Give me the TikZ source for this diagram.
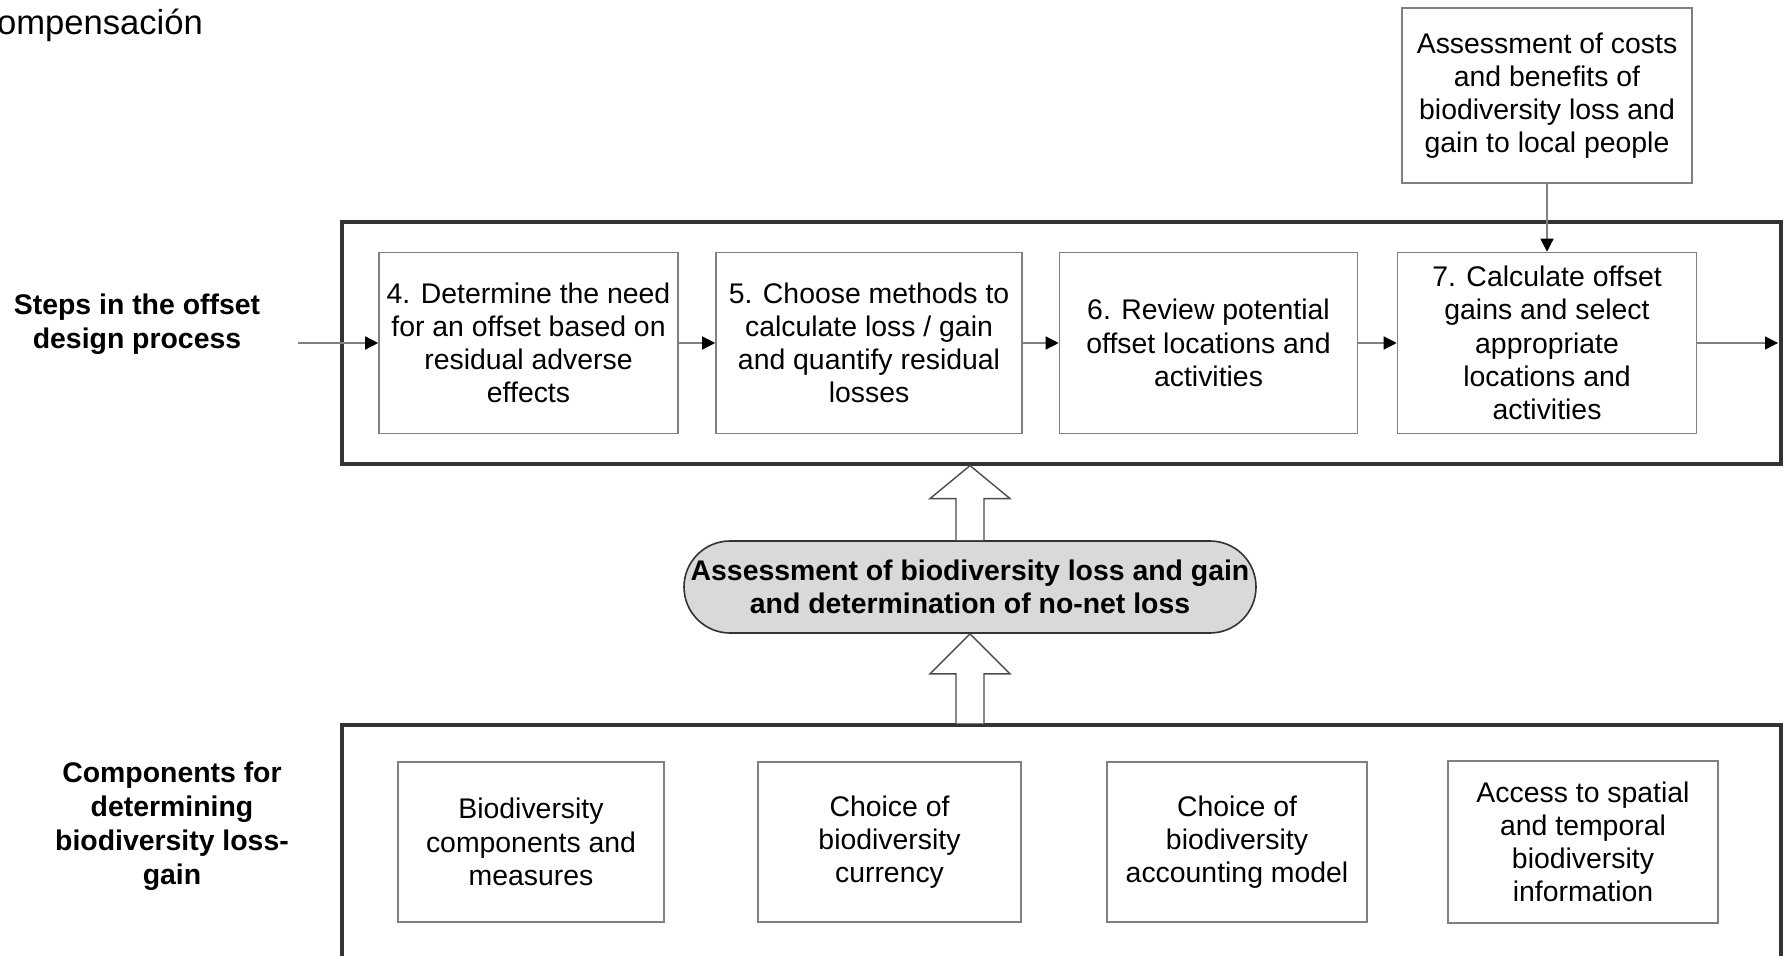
\documentclass[tikz,border=0pt]{standalone}
\usepackage{fontspec}
\setmainfont{Liberation Sans}
\usetikzlibrary{arrows.meta}

\begin{document}
\begin{tikzpicture}[x=0.5pt, y=-0.5pt,
  font=\fontsize{14.2}{16.6}\selectfont,
  stepbox/.style={draw=gray, line width=0.8pt, minimum width=149.5pt, minimum height=90.5pt, align=center, inner sep=1pt},
  compbox/.style={draw=gray, line width=0.8pt, minimum height=80pt, align=center, inner sep=1pt},
  panel/.style={draw=black!80, line width=1.6pt, minimum width=719.5pt},
  sidelabel/.style={align=center, font=\fontsize{14.2}{17}\selectfont\bfseries},
  pill/.style={draw=black!80, line width=0.8pt, fill=gray!30, rounded corners=23pt, minimum width=286pt, minimum height=46pt, align=center, inner sep=0pt, font=\fontsize{14.2}{16.6}\selectfont\bfseries},
  arrow/.style={-{Triangle[length=6.5pt, width=6.5pt, color=black]}, draw=gray, line width=0.7pt},
  hollow/.style={draw=black!70, line width=0.7pt, fill=white}
]
  \useasboundingbox (0,0) rectangle (1786,956);

  % Panels
  \node[panel, minimum height=121pt] (stepspanel) at (1061.5, 343) {};
  \node[panel, minimum height=137.5pt] (comppanel) at (1061.5, 862.5) {};
  \node[anchor=base west, font=\fontsize{17.3}{20}\selectfont] (title) at (-35, 35) {Compensación};

  % Steps
  \node[sidelabel] (stepslabel) at (137, 324) {Steps in the offset\\design process};
  \node[stepbox] (need) at (528.5, 343) {4. Determine the need\\for an offset based on\\residual adverse\\effects};
  \node[stepbox, minimum width=153pt] (methods) at (869, 343) {5. Choose methods to\\calculate loss / gain\\and quantify residual\\losses};
  \node[stepbox, minimum width=149pt] (review) at (1208.5, 343) {6. Review potential\\offset locations and\\activities};
  \node[stepbox] (calc) at (1547, 343) {7. Calculate offset\\gains and select\\appropriate\\locations and\\activities};
  \node[stepbox, minimum width=145pt, minimum height=87.5pt] (costs) at (1547, 95.5) {Assessment of costs\\and benefits of\\biodiversity loss and\\gain to local people};

  % Assessment
  \node[pill] (assess) at (970, 587) {Assessment of biodiversity loss and gain\\and determination of no-net loss};

  % Components
  \node[sidelabel] (complabel) at (172, 826) {Components for\\determining\\biodiversity loss-\\gain};
  \node[compbox, minimum width=133pt] (measures) at (531, 842) {Biodiversity\\components and\\measures};
  \node[compbox, minimum width=131.5pt] (currency) at (889.5, 842) {Choice of\\biodiversity\\currency};
  \node[compbox, minimum width=130pt] (model) at (1237, 842) {Choice of\\biodiversity\\accounting model};
  \node[compbox, minimum width=135pt, minimum height=81pt] (info) at (1583, 842) {Access to spatial\\and temporal\\biodiversity\\information};

  % Arrows
  \coordinate (in) at (298, 343);
  \coordinate (out) at (1778, 343);
  \draw[arrow] (in) -- (need);
  \draw[arrow] (need) -- (methods);
  \draw[arrow] (methods) -- (review);
  \draw[arrow] (review) -- (calc);
  \draw[arrow] (calc) -- (out);
  \draw[arrow] (costs) -- (calc);

  % Block arrows
  \coordinate (uptip) at (assess.north |- stepspanel.south);
  \coordinate (lowbase) at (assess.south |- comppanel.north);
  \draw[hollow] ([xshift=-7pt]assess.north) -- ([xshift=-7pt, yshift=-16.5pt]uptip) -- ([xshift=-20pt, yshift=-16.5pt]uptip) -- (uptip) -- ([xshift=20pt, yshift=-16.5pt]uptip) -- ([xshift=7pt, yshift=-16.5pt]uptip) -- ([xshift=7pt]assess.north);
  \draw[hollow] ([xshift=-7pt]lowbase) -- ([xshift=-7pt, yshift=-20pt]assess.south) -- ([xshift=-20pt, yshift=-20pt]assess.south) -- (assess.south) -- ([xshift=20pt, yshift=-20pt]assess.south) -- ([xshift=7pt, yshift=-20pt]assess.south) -- ([xshift=7pt]lowbase);
\end{tikzpicture}
\end{document}
